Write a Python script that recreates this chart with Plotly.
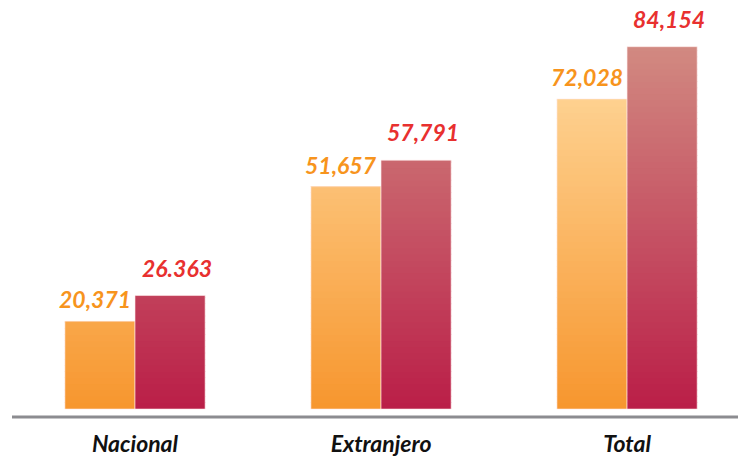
import plotly.graph_objects as go

categories = ["Nacional", "Extranjero", "Total"]
serie_a = [20371, 51657, 72028]
serie_b = [26363, 57791, 84154]
labels_a = ["20,371", "51,657", "72,028"]
labels_b = ["26.363", "57,791", "84,154"]

FONT = "Lato"
N = 60
TOP = 86000.0

def lerp(c0, c1, t):
    return "rgb(%d,%d,%d)" % tuple(round(a + (b - a) * t) for a, b in zip(c0, c1))

grad_a = ((247, 150, 46), (255, 220, 162))
grad_b = ((186, 30, 72), (210, 140, 130))

fig = go.Figure()
step = TOP / N
for group, vals, (c0, c1) in (("a", serie_a, grad_a), ("b", serie_b, grad_b)):
    for k in range(N):
        lo = k * step
        hi = lo + step
        ys = [max(0.0, min(v, hi) - lo) for v in vals]
        if max(ys) <= 0:
            continue
        ys2 = [y + (step * 0.15 if y > 0 and v > hi else 0) for y, v in zip(ys, vals)]
        fig.add_trace(go.Bar(
            x=categories, y=ys2, base=[lo] * len(vals), offsetgroup=group,
            marker=dict(color=lerp(c0, c1, (lo + step / 2) / TOP), line=dict(width=0)),
            hoverinfo="skip", showlegend=False,
        ))
    fig.add_trace(go.Bar(
        x=categories, y=vals, offsetgroup=group,
        marker=dict(color="rgba(0,0,0,0)", line=dict(color="rgba(255,235,235,0.6)", width=1)),
        showlegend=False,
    ))

for i, c in enumerate(categories):
    fig.add_annotation(x=c, y=serie_a[i], text=labels_a[i], showarrow=False,
                       xshift=-40, yshift=6, yanchor="bottom",
                       font=dict(family=FONT, size=23, color="#F7941D", weight="bold", style="italic"))
    fig.add_annotation(x=c, y=serie_b[i], text=labels_b[i], showarrow=False,
                       xshift=42, yshift=12, yanchor="bottom",
                       font=dict(family=FONT, size=23, color="#E8302F", weight="bold", style="italic"))

fig.add_shape(type="line", xref="paper", yref="paper", x0=0, x1=1, y0=0, y1=0,
              line=dict(color="#8C8C90", width=3))

fig.update_layout(
    width=738, height=457,
    margin=dict(l=12, r=0, t=0, b=37),
    paper_bgcolor="white", plot_bgcolor="white",
    barmode="group", bargap=0.43, bargroupgap=0,
    xaxis=dict(range=[-0.5, 2.451], showgrid=False, zeroline=False, showline=False,
               ticks="", ticklabelstandoff=11,
               tickfont=dict(family=FONT, size=23, color="#111111", weight="bold", style="italic")),
    yaxis=dict(range=[-1845, 95000], visible=False),
)

fig.write_html("out.html", config={"displayModeBar": False},
               post_script="document.body.style.margin='0';")
